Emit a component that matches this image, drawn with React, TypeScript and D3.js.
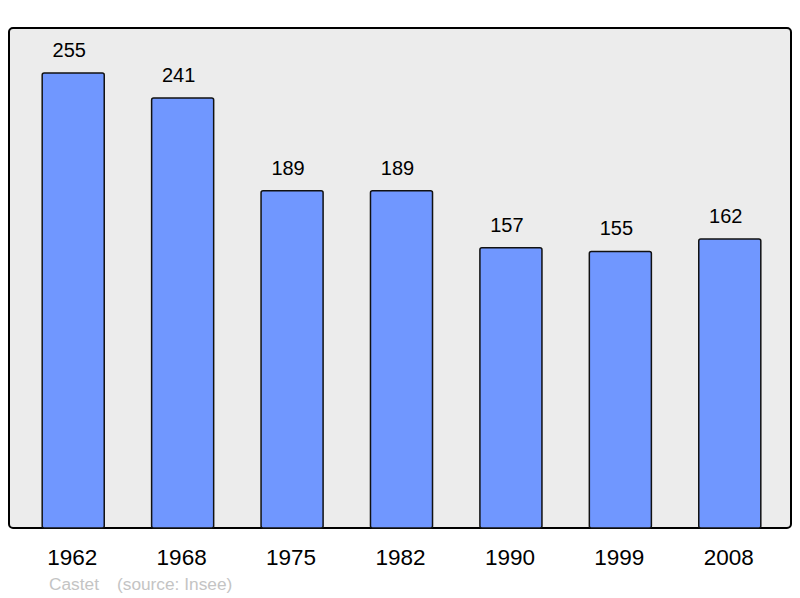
import React from "react";
import * as d3 from "d3";

const years = ["1962", "1968", "1975", "1982", "1990", "1999", "2008"];
const population = [255, 241, 189, 189, 157, 155, 162];
const commune = "Castet";
const source = "(source: Insee)";

const W = 800;
const H = 598;
const frame = { x: 9, y: 28, w: 782, h: 500 };
const plot = { left: 18.5, right: 784.5, top: 73, bottom: 528 };

export default function App() {
  const x = d3.scalePoint<string>().domain(years).range([plot.left, plot.right]).padding(0.5);
  const y = d3.scaleLinear().domain([0, d3.max(population) as number]).range([plot.bottom, plot.top]);
  const barW = x.step() * 0.567;
  const font = "'Liberation Sans', Arial, sans-serif";

  return (
    <svg
      width={W}
      height={H}
      style={{ position: "absolute", left: 0, top: 0, background: "#fff" }}
      fontFamily={font}
    >
      <rect
        x={frame.x}
        y={frame.y}
        width={frame.w}
        height={frame.h}
        rx={4}
        fill="#ececec"
        stroke="#000"
        strokeWidth={2}
      />
      {years.map((yr, i) => {
        const cx = x(yr) as number;
        const top = y(population[i]);
        return (
          <g key={yr}>
            <rect
              x={cx - barW / 2}
              y={top}
              width={barW}
              height={y(0) - top}
              rx={2}
              fill="#7097ff"
              stroke="#111"
              strokeWidth={1.5}
            />
            <text x={cx - 4} y={top - 16} textAnchor="middle" fontSize={20} fill="#000">
              {population[i]}
            </text>
            <text x={cx - 1} y={565} textAnchor="middle" fontSize={22.5} fill="#000">
              {yr}
            </text>
          </g>
        );
      })}
      <text x={49} y={590} fontSize={17.3} fill="#c4c4c4">
        {commune}
      </text>
      <text x={117} y={590} fontSize={17.3} fill="#c4c4c4">
        {source}
      </text>
    </svg>
  );
}
